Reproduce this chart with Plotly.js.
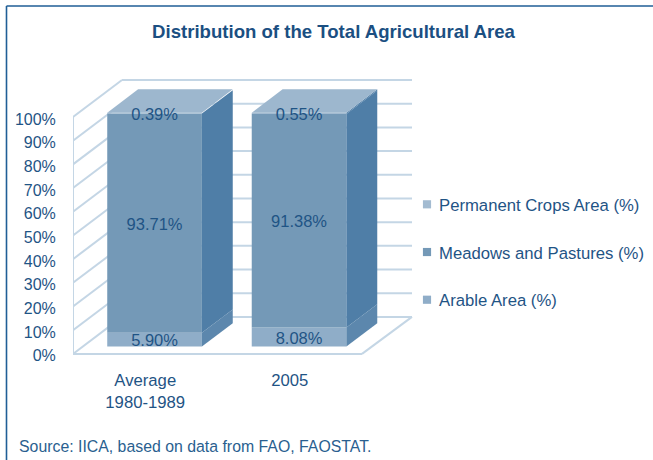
<!DOCTYPE html>
<html><head><meta charset="utf-8">
<script src="https://cdn.plot.ly/plotly-3.0.1.min.js"></script>
<style>html,body{margin:0;padding:0;background:#fff}#c{width:653px;height:460px}
.legend .legendpoints path{transform:translate(28px,0) scale(.68) !important}</style>
</head><body><div id="c"></div>
<script>
// ---- data ----
const categories = ["Average<br>1980-1989", "2005"];
const arable = [5.90, 8.08];
const meadows = [93.71, 91.38];
const permanent = [0.39, 0.55];
const yTicks = [0,10,20,30,40,50,60,70,80,90,100];
const seriesNames = ["Arable Area (%)", "Meadows and Pastures (%)", "Permanent Crops Area (%)"];
const legendRanks = [3,2,1];
const frontColors = ["#8FADC8", "#7499B7", "#A3BBD1"];
const sideColors = ["#5C87AD", "#4F7EA7", "#4F7EA7"];
const topColor = "#9DB7CE";
const gridColor = "#C4D6E5";
const inkColor = "#1F5485";
const FF='Liberation Sans, Arial, sans-serif';

// ---- frame geometry (pixels) ----
const W=653,H=460, L=73,R=651,T=60,Zero=354, wallEndPx=412;
const catPx=144.5, yPx=2.37, yLow=-3;
const B=Zero-yLow*yPx;                     // plot bottom sits just under the 0% line
const xMin=-0.5, xMax=xMin+(R-L)/catPx, yMax=(Zero-T)/yPx, xWallEnd=xMin+(wallEndPx-L)/catPx;
const wallDx=49/catPx, wallDy=37/yPx;      // full depth of the wall
const barNear=0.19, barFar=0.82;           // bar position inside that depth
const barW=0.655, barScale=0.987;
const labelDrop=2/yPx, valueDrop=2.5/yPx;  // optical nudge of text, in axis units
const px=(x)=>(x-L)/(R-L), py=(y)=>(B-y)/(B-T);

// ---- grid shapes ----
const shapes=[];
const gl=(x0,y0,x1,y1)=>shapes.push({type:'line',layer:'below',xref:'x',yref:'y',x0,y0,x1,y1,line:{color:gridColor,width:2}});
yTicks.forEach(v=>{
  gl(xMin,v,xMin+wallDx,v+wallDy);
  gl(xMin+wallDx,v+wallDy,xWallEnd,v+wallDy);
});
gl(xMin,0,xMin,100);
gl(xMin,0,1.5,0);
gl(1.5,0,xWallEnd,wallDy);
// outer frame
const frame={color:'#1F5E96',width:1.6};
shapes.push({type:'line',xref:'paper',yref:'paper',x0:px(6.5),y0:py(6),x1:px(653),y1:py(6),line:frame,layer:'above'});
shapes.push({type:'line',xref:'paper',yref:'paper',x0:px(6.5),y0:py(6),x1:px(6.5),y1:py(462),line:frame,layer:'above'});

// ---- traces ----
const traces=[];
const floorV=0.2*wallDy;
const series=[arable,meadows,permanent];
const barX=categories.map((c,i)=>i+barNear*wallDx);
const cum=categories.map(()=>0);
const textX=[],textY=[],textT=[];
const sidePolys=[];
series.forEach((vals,s)=>{
  const base=vals.map((v,i)=>floorV+cum[i]*barScale);
  traces.push({type:'bar',name:seriesNames[s],x:barX,y:vals.map(v=>v*barScale),base:base,width:barW,
    marker:{color:frontColors[s],line:{width:0}},legendgroup:'g'+s,legendrank:legendRanks[s],hoverinfo:'skip',showlegend:true});
  vals.forEach((v,i)=>{
    const b=base[i], t=b+v*barScale;
    const xr=barX[i]+barW/2;
    const dd=(barFar-barNear);
    sidePolys.push({type:'scatter',mode:'lines',fill:'toself',fillcolor:sideColors[s],line:{width:0},
      x:[xr,xr+dd*wallDx,xr+dd*wallDx,xr,xr],y:[b,b+dd*wallDy,t+dd*wallDy,t,b],showlegend:false,hoverinfo:'skip'});
    if(s===2){
      const xl=barX[i]-barW/2;
      sidePolys.push({type:'scatter',mode:'lines',fill:'toself',fillcolor:topColor,line:{width:0},
        x:[xl,xl+dd*wallDx,xr+dd*wallDx,xr,xl],y:[t,t+dd*wallDy,t+dd*wallDy,t,t],showlegend:false,hoverinfo:'skip'});
    }
    textX.push(barX[i]);textY.push((b+t)/2-valueDrop);textT.push(v.toFixed(2)+'%');
    cum[i]+=v;
  });
});
traces.push(...sidePolys);
traces.push({type:'scatter',mode:'text',x:textX,y:textY,text:textT,textposition:'middle center',
  textfont:{family:FF,size:16.5,color:inkColor},showlegend:false,hoverinfo:'skip',cliponaxis:false});

const tickFont={family:FF,size:16,color:inkColor};
const layout={
  width:W,height:H,margin:{l:L,r:W-R,t:T,b:H-B,pad:0,autoexpand:false},
  paper_bgcolor:'#fff',plot_bgcolor:'rgba(0,0,0,0)',font:tickFont,barmode:'overlay',
  title:{text:'<b>Distribution of the Total Agricultural Area</b>',font:{family:FF,size:18.6,color:'#1B4F82'},
    x:333.5/W,xanchor:'center',y:1-31/H,yanchor:'middle'},
  xaxis:{type:'linear',range:[xMin,xMax],tickvals:categories.map((c,i)=>i),ticktext:categories,showgrid:false,zeroline:false,showline:false,automargin:false,
    ticks:'outside',ticklen:4,tickcolor:'rgba(0,0,0,0)',tickfont:{family:FF,size:16.7,color:inkColor},fixedrange:true},
  yaxis:{range:[yLow,yMax],tickvals:yTicks.map(v=>v-labelDrop),ticktext:yTicks.map(v=>v+'%'),showgrid:false,zeroline:false,showline:false,automargin:false,
    ticks:'outside',ticklen:13,tickcolor:'rgba(0,0,0,0)',tickfont:tickFont,fixedrange:true},
  legend:{x:px(399),xanchor:'left',y:py(187),yanchor:'top',traceorder:'grouped',tracegroupgap:23,
    bgcolor:'rgba(0,0,0,0)',font:{family:FF,size:16.7,color:inkColor},itemclick:false,itemdoubleclick:false},
  shapes,
  annotations:[{text:'Source: IICA, based on data from FAO, FAOSTAT.',xref:'paper',yref:'paper',x:px(17),y:py(447),xanchor:'left',yanchor:'middle',
    showarrow:false,font:{family:FF,size:15.85,color:'#2A5F90'}}]
};
Plotly.newPlot('c',traces,layout,{displayModeBar:false,staticPlot:true});
</script></body></html>
